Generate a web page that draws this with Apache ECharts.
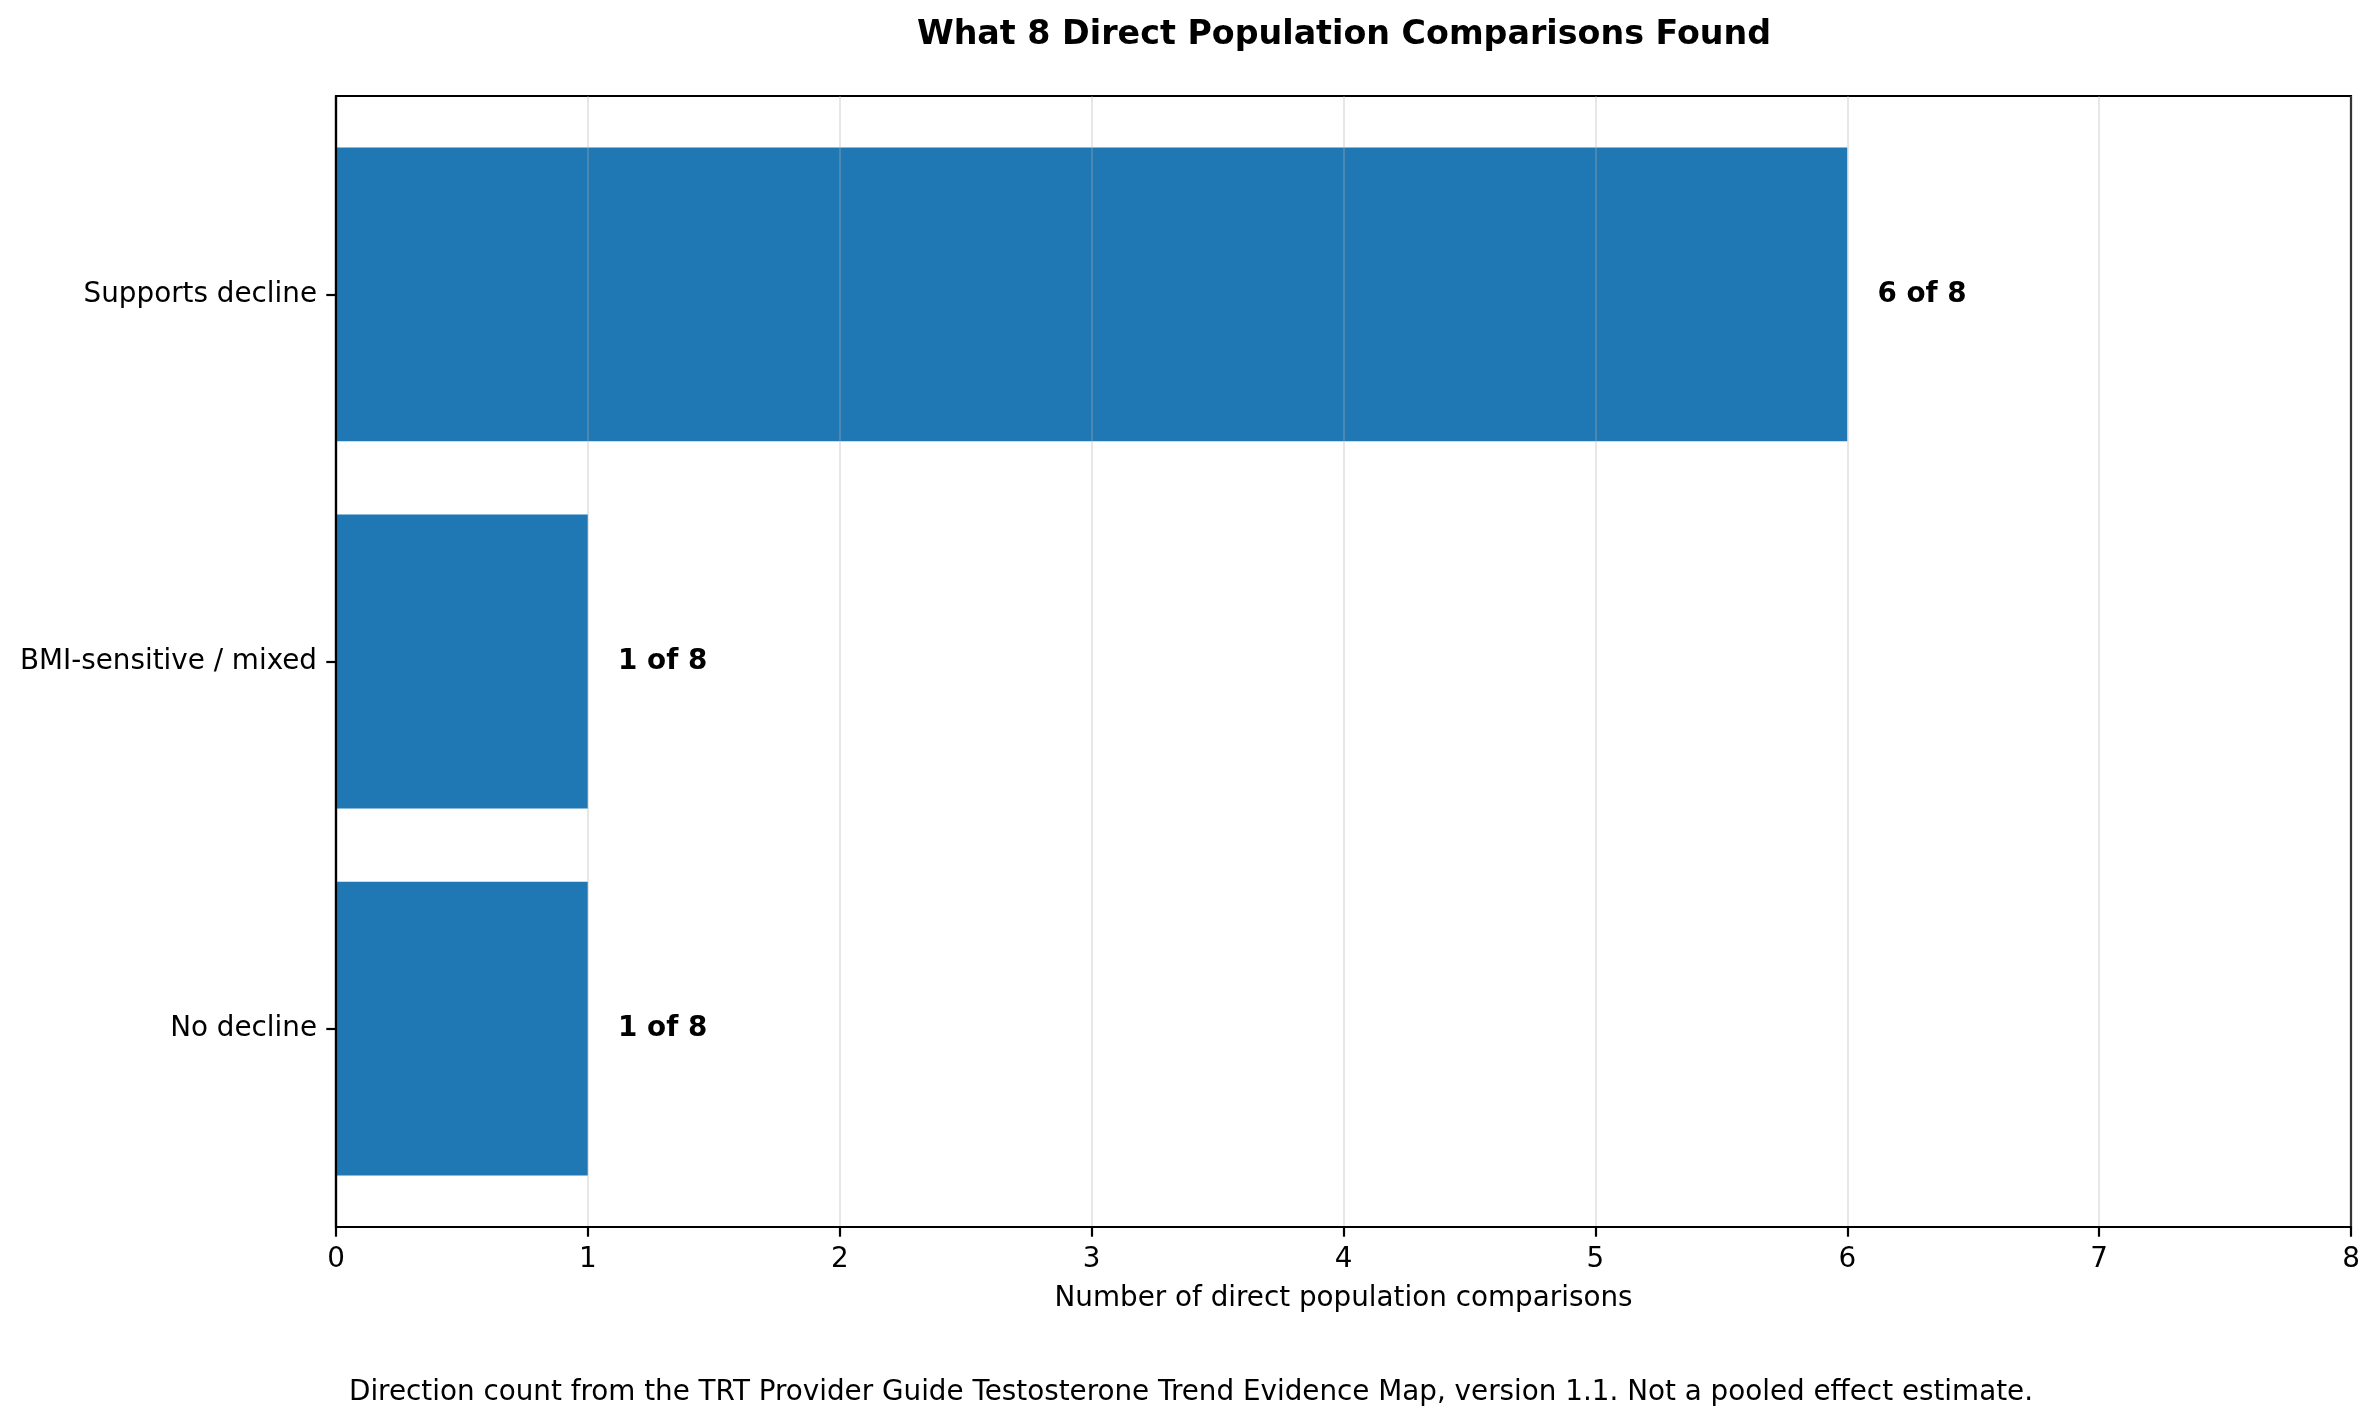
<!DOCTYPE html>
<html lang="en">
<head>
  <meta charset="utf-8">
  <style>
    html, body { margin: 0; padding: 0; background: #fff; }
    #container { width: 2380px; height: 1425px; }
  </style>
  <title>What 8 Direct Population Comparisons Found</title>
</head>
<body>
  <div id="container"></div>

  <script src="https://cdn.jsdelivr.net/npm/echarts@6/dist/echarts.min.js"></script>
  <script>
    // categories, top to bottom
    var categories = ['Supports decline', 'BMI-sensitive / mixed', 'No decline'];
    var counts = [6, 1, 1];
    var total = 8;
    var xTicks = [0, 1, 2, 3, 4, 5, 6, 7, 8];

    var titleText = 'What 8 Direct Population Comparisons Found';
    var xName = 'Number of direct population comparisons';
    var footnote = 'Direction count from the TRT Provider Guide Testosterone Trend Evidence Map, version 1.1. Not a pooled effect estimate.';

    var FONT = "'DejaVu Sans', 'Liberation Sans', sans-serif";
    var barHalf = 0.4;   // matplotlib barh height 0.8
    var labelPad = 0.12; // value-label offset in data units

    var chart = echarts.init(document.getElementById('container'), null, { renderer: 'canvas' });

    var option = {
      backgroundColor: '#ffffff',
      animation: false,
      title: [{
        text: titleText,
        left: 1339,
        top: 14,
        textAlign: 'center',
        textStyle: { fontFamily: FONT, fontSize: 33.3, fontWeight: 'bold', color: '#000' }
      }, {
        text: footnote,
        left: 1186,
        top: 1374,
        textAlign: 'center',
        textStyle: { fontFamily: FONT, fontSize: 27.8, fontWeight: 'normal', color: '#000' }
      }],
      grid: {
        left: 336, top: 96, width: 2015, height: 1131,
        show: true, borderColor: '#000', borderWidth: 2.2, backgroundColor: 'transparent'
      },
      xAxis: {
        type: 'value',
        min: xTicks[0],
        max: xTicks[xTicks.length - 1],
        interval: 1,
        z: 5,
        name: xName,
        nameLocation: 'middle',
        nameGap: 58,
        nameTextStyle: { fontFamily: FONT, fontSize: 27.8, color: '#000' },
        axisLine: { show: true, onZero: false, lineStyle: { color: '#000', width: 2.2 } },
        axisTick: { show: true, length: 9.7, lineStyle: { color: '#000', width: 2.2 } },
        axisLabel: { margin: 19, fontFamily: FONT, fontSize: 27.8, color: '#000' },
        splitLine: { show: true, lineStyle: { color: 'rgba(176,176,176,0.3)', width: 2 } }
      },
      yAxis: {
        type: 'value',
        min: -barHalf - 0.14,
        max: categories.length - 1 + barHalf + 0.14,
        inverse: true,
        z: 5,
        axisLine: { show: true, onZero: false, lineStyle: { color: '#000', width: 2.2 } },
        axisTick: {
          show: true, length: 9.7, lineStyle: { color: '#000', width: 2.2 },
          customValues: categories.map(function (c, i) { return i; })
        },
        axisLabel: {
          margin: 19, fontFamily: FONT, fontSize: 27.8, color: '#000',
          customValues: categories.map(function (c, i) { return i; }),
          formatter: function (v) { return categories[Math.round(v)] || ''; }
        },
        splitLine: { show: false }
      },
      series: [{
        type: 'custom',
        z: 2,
        encode: { x: 0, y: 1 },
        data: counts.map(function (c, i) { return [c, i]; }),
        renderItem: function (params, api) {
          var v = api.value(0), idx = api.value(1);
          var a = api.coord([0, idx - barHalf]);
          var b = api.coord([v, idx + barHalf]);
          var t = api.coord([v + labelPad, idx]);
          return {
            type: 'group',
            children: [{
              type: 'rect',
              shape: {
                x: Math.min(a[0], b[0]), y: Math.min(a[1], b[1]),
                width: Math.abs(b[0] - a[0]), height: Math.abs(b[1] - a[1])
              },
              style: { fill: '#1f77b4' }
            }, {
              type: 'text',
              x: t[0], y: t[1],
              style: {
                text: v + ' of ' + total,
                fontFamily: FONT, fontSize: 27.8, fontWeight: 'bold',
                fill: '#000', align: 'left', verticalAlign: 'middle'
              }
            }]
          };
        }
      }]
    };

    chart.setOption(option);
  </script>
</body>
</html>
